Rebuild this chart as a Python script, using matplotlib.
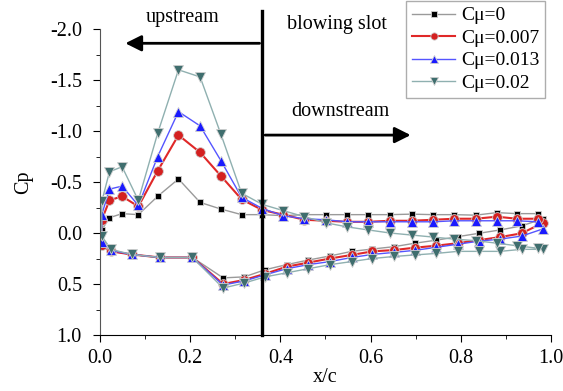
import numpy as np
import matplotlib.pyplot as plt

plt.rcParams['font.family'] = ['Liberation Serif', 'DejaVu Serif']
plt.rcParams['font.size'] = 14

# 上表面 / 下表面 测压点位置
x_upper = [0.004, 0.021, 0.049, 0.085, 0.128, 0.174, 0.222, 0.268, 0.314, 0.36, 0.406, 0.453,
           0.501, 0.548, 0.595, 0.643, 0.691, 0.739, 0.786, 0.833, 0.88, 0.924, 0.972]
x_lower = [0.004, 0.024, 0.07, 0.133, 0.205, 0.273, 0.32, 0.366, 0.414, 0.462, 0.51, 0.558,
           0.604, 0.652, 0.698, 0.746, 0.793, 0.84, 0.887, 0.935, 0.982]

labels = ['Cμ=0', 'Cμ=0.007', 'Cμ=0.013', 'Cμ=0.02']

cp_upper_0 = [-0.03, -0.15, -0.19, -0.18, -0.36, -0.53, -0.30, -0.235, -0.18, -0.18, -0.17, -0.18,
              -0.18, -0.18, -0.18, -0.18, -0.185, -0.18, -0.18, -0.175, -0.20, -0.19, -0.19]
cp_lower_0 = [0.13, 0.18, 0.21, 0.24, 0.24, 0.44, 0.43, 0.36, 0.31, 0.265, 0.225, 0.18,
              0.157, 0.134, 0.10, 0.07, 0.036, 0.003, -0.03, -0.07, -0.14]

cp_upper_007 = [-0.13, -0.32, -0.36, -0.26, -0.61, -0.96, -0.79, -0.56, -0.33, -0.225, -0.18, -0.13,
                -0.12, -0.11, -0.11, -0.12, -0.12, -0.13, -0.14, -0.14, -0.16, -0.14, -0.14]
cp_lower_007 = [0.12, 0.18, 0.21, 0.24, 0.24, 0.50, 0.46, 0.40, 0.33, 0.29, 0.25, 0.215,
                0.18, 0.167, 0.144, 0.124, 0.10, 0.07, 0.04, 0.003, -0.10]

cp_upper_013 = [-0.18, -0.43, -0.46, -0.27, -0.75, -1.19, -1.05, -0.71, -0.35, -0.24, -0.17, -0.14,
                -0.13, -0.11, -0.11, -0.11, -0.11, -0.11, -0.12, -0.12, -0.12, -0.12, -0.11]
cp_lower_013 = [0.085, 0.17, 0.21, 0.24, 0.24, 0.51, 0.47, 0.41, 0.35, 0.31, 0.28, 0.24,
                0.21, 0.19, 0.17, 0.14, 0.11, 0.08, 0.06, 0.03, -0.04]

cp_upper_02 = [-0.31, -0.60, -0.65, -0.32, -0.98, -1.60, -1.53, -0.97, -0.39, -0.28, -0.22, -0.16,
               -0.10, -0.06, -0.03, 0.0, 0.02, 0.04, 0.06, 0.075, 0.10, 0.125, 0.15]
cp_lower_02 = [0.03, 0.16, 0.21, 0.24, 0.24, 0.54, 0.49, 0.43, 0.39, 0.35, 0.31, 0.28,
               0.25, 0.23, 0.215, 0.20, 0.18, 0.18, 0.18, 0.16, 0.16]

series = [
    (cp_upper_0, cp_lower_0, 's', '#000000', '#9a9a9a', 1.0, 5),
    (cp_upper_007, cp_lower_007, 'o', '#d42020', '#e02828', 1.5, 7),
    (cp_upper_013, cp_lower_013, '^', '#1a1aff', '#5555ff', 1.0, 7),
    (cp_upper_02, cp_lower_02, 'v', '#3f6e6e', '#8fb0b0', 1.0, 7),
]

fig = plt.figure(figsize=(5.63, 3.91), dpi=100)
ax = fig.add_axes([0.1776, 0.1432, 0.8011, 0.7826])

for (up, lo, m, mc, lc, lw, ms), lab in zip(series, labels):
    # 从后缘下表面 -> 前缘 -> 后缘上表面 连成一条线
    xs = list(x_lower[::-1]) + list(x_upper)
    ys = list(lo[::-1]) + list(up)
    ax.plot(xs, ys, color=lc, lw=lw, marker=m, markersize=ms,
            markerfacecolor=mc, markeredgecolor='#d0d0d0', markeredgewidth=0.6,
            label=lab)

ax.set_xlim(0, 1.0)
ax.set_ylim(1.0, -2.0)
ax.set_xticks(np.arange(0, 1.01, 0.2))
ax.set_xticks(np.arange(0, 1.01, 0.1), minor=True)
ax.set_yticks(np.arange(-2.0, 1.01, 0.5))
ax.set_yticks(np.arange(-2.0, 1.01, 0.25), minor=True)
ax.xaxis.set_major_formatter(plt.FormatStrFormatter('%.1f'))
ax.yaxis.set_major_formatter(plt.FormatStrFormatter('%.1f'))
ax.tick_params(axis='both', which='major', direction='out', length=5, labelsize=14.5)
ax.tick_params(axis='x', which='major', pad=5)
ax.tick_params(axis='y', which='major', pad=8)
ax.tick_params(axis='both', which='minor', direction='out', length=3)
ax.spines['top'].set_visible(False)
ax.spines['right'].set_visible(False)
ax.spines['left'].set_color('#555555')
ax.set_xlabel('x/c', fontsize=14.5, labelpad=0)
ax.set_ylabel('Cp', fontsize=14.5, labelpad=12)

# 吹气缝位置
slot_x = 0.36
ax.plot([slot_x, slot_x], [1.0, -2.18], color='black', lw=2.4, clip_on=False)

ax.annotate('', xy=(0.05, -1.86), xytext=(slot_x, -1.86),
            arrowprops=dict(arrowstyle='-|>', color='black', lw=2, mutation_scale=24))
ax.annotate('', xy=(0.695, -0.96), xytext=(slot_x, -0.96),
            arrowprops=dict(arrowstyle='-|>', color='black', lw=2, mutation_scale=24))

ax.text(0.182, -2.11, 'upstream', ha='center', va='center', fontsize=14.5, clip_on=False)
ax.text(0.525, -2.04, 'blowing slot', ha='center', va='center', fontsize=14.5, clip_on=False)
ax.text(0.532, -1.19, 'downstream', ha='center', va='center', fontsize=14.5)

leg = ax.legend(loc='upper right', bbox_to_anchor=(545 / 563, 1 - 1 / 391),
                bbox_transform=fig.transFigure, fontsize=14, markerscale=0.75,
                frameon=True, fancybox=False, handlelength=2.2, handletextpad=0.3,
                borderpad=0.3, labelspacing=0.25, borderaxespad=0)
leg.get_frame().set_edgecolor('#999999')
leg.get_frame().set_linewidth(1.0)

plt.savefig('out.png', dpi=100)
